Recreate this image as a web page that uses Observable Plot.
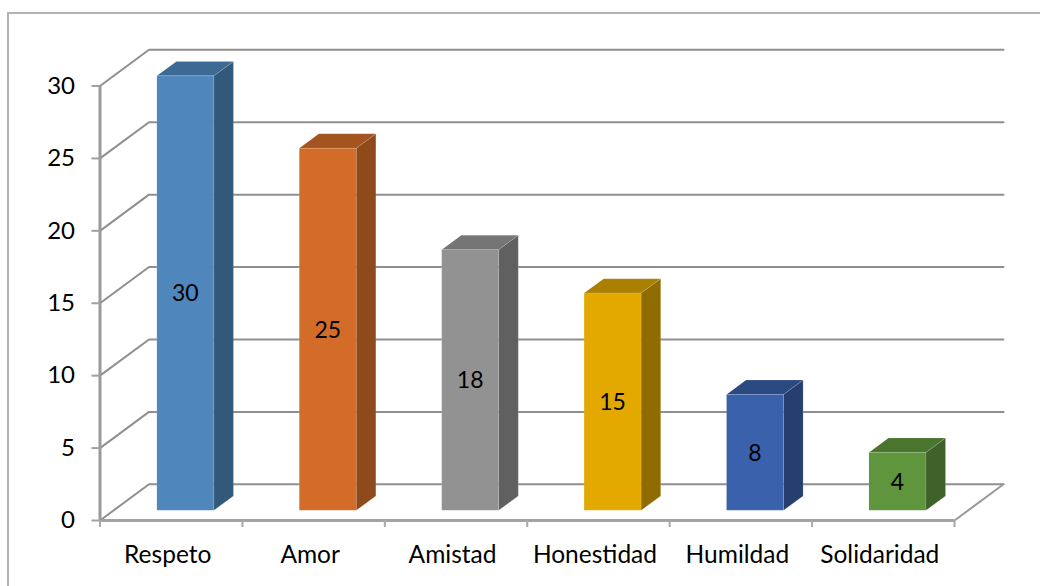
<!DOCTYPE html>
<html>
<head>
<meta charset="utf-8">
<script src="https://cdn.jsdelivr.net/npm/d3@7"></script>
<script src="https://cdn.jsdelivr.net/npm/@observablehq/plot@0.6"></script>
<style>
html,body{margin:0;padding:0;background:#fff;overflow:hidden}
#frame{position:absolute;left:7px;top:12px;width:1033px;height:574px;border-top:2px solid #b3b3b3;border-left:2px solid #b3b3b3;box-sizing:border-box}
#chart{position:absolute;left:0;top:0}
svg{background:transparent}
</style>
</head>
<body>
<div id="frame"></div>
<div id="chart"></div>
<script>
const categories = ["Respeto","Amor","Amistad","Honestidad","Humildad","Solidaridad"];
const values = [30,25,18,15,8,4];
const frontColors = ["#4f87bd","#d26c28","#929292","#e3a900","#3a62ac","#5f963d"];
const sideColors  = ["#33597a","#8f4a1c","#606060","#8f6c00","#263f6f","#3e6229"];
const topColors   = ["#3d6a92","#a3541f","#757575","#aa8000","#2c4a82","#4a752f"];
const yTicks = [0,5,10,15,20,25,30];

// oblique projection of the 3-D chart box, in data units
const depthX = 0.344, depthY = 2.5;
const barFront = 0.28, barBack = 0.68, barWidth = 0.4, barCenter = 0.503;
const project = (slot, v, f) => ({x: slot + f*depthX, y: v + f*depthY});

const walls = yTicks.map(v => ({v, pts:[project(0,v,0), project(0,v,1), project(6,v,1)]}))
  .flatMap(({v,pts}) => pts.map(p => ({...p, id:v})));
const floorEdge = [project(6,0,0), project(6,0,1)];

const faces = [];
categories.forEach((c,i) => {
  const v = values[i], l = i + barCenter - barWidth/2, r = i + barCenter + barWidth/2;
  const add = (kind, color, pts) => pts.forEach(p => faces.push({...p, id:c+kind, color}));
  add("side", sideColors[i], [project(r,0,barFront),project(r,0,barBack),project(r,v,barBack),project(r,v,barFront)]);
  add("top", topColors[i], [project(l,v,barFront),project(r,v,barFront),project(r,v,barBack),project(l,v,barBack)]);
  add("front", frontColors[i], [project(l,0,barFront),project(r,0,barFront),project(r,v,barFront),project(l,v,barFront)]);
});
const labels = categories.map((c,i) => ({...project(i+barCenter, values[i]/2, barFront), t:String(values[i])}));

const font = "Lato, Carlito, sans-serif";
const plot = Plot.plot({
  width:1042, height:586,
  marginTop:85.5, marginBottom:66, marginLeft:99.5, marginRight:88,
  style:{background:"transparent", fontFamily:font, color:"#000"},
  x:{type:"linear", domain:[0,6]},
  y:{type:"linear", domain:[0,30]},
  color:{type:"identity"},
  marks:[
    Plot.line(walls,{x:"x",y:"y",z:"id",stroke:"#8f8f8f",strokeWidth:2,curve:"linear"}),
    Plot.line(floorEdge,{x:"x",y:"y",stroke:"#999",strokeWidth:2}),
    Plot.ruleY([0],{stroke:"#a3a3a3",strokeWidth:3}),
    Plot.ruleX([0],{y1:0,y2:30,stroke:"#9a9a9a",strokeWidth:3}),
    Plot.line(faces,{x:"x",y:"y",z:"id",fill:"color",stroke:"#ffffff",strokeOpacity:0.12,strokeWidth:1,curve:"linear-closed"}),
    Plot.text(labels,{x:"x",y:"y",text:"t",fontSize:23,dy:1,fill:"#000"}),
    Plot.axisY({ticks:yTicks,tickSize:8,tickPadding:17,label:null,fontSize:24,stroke:"#a0a0a0",strokeWidth:2,color:"#000",fill:"#000"}),
    Plot.axisX({ticks:d3.range(0,7),tickSize:7,tickFormat:()=>"",label:null,stroke:"#a8a8a8",strokeWidth:2}),
    Plot.axisX({ticks:categories.map((c,i)=>i+.5),tickSize:0,tickPadding:25,dx:-3.5,tickFormat:d=>categories[d-.5],label:null,fontSize:24.5,fill:"#000"})
  ]
});
document.getElementById("chart").append(plot);
</script>
</body>
</html>
